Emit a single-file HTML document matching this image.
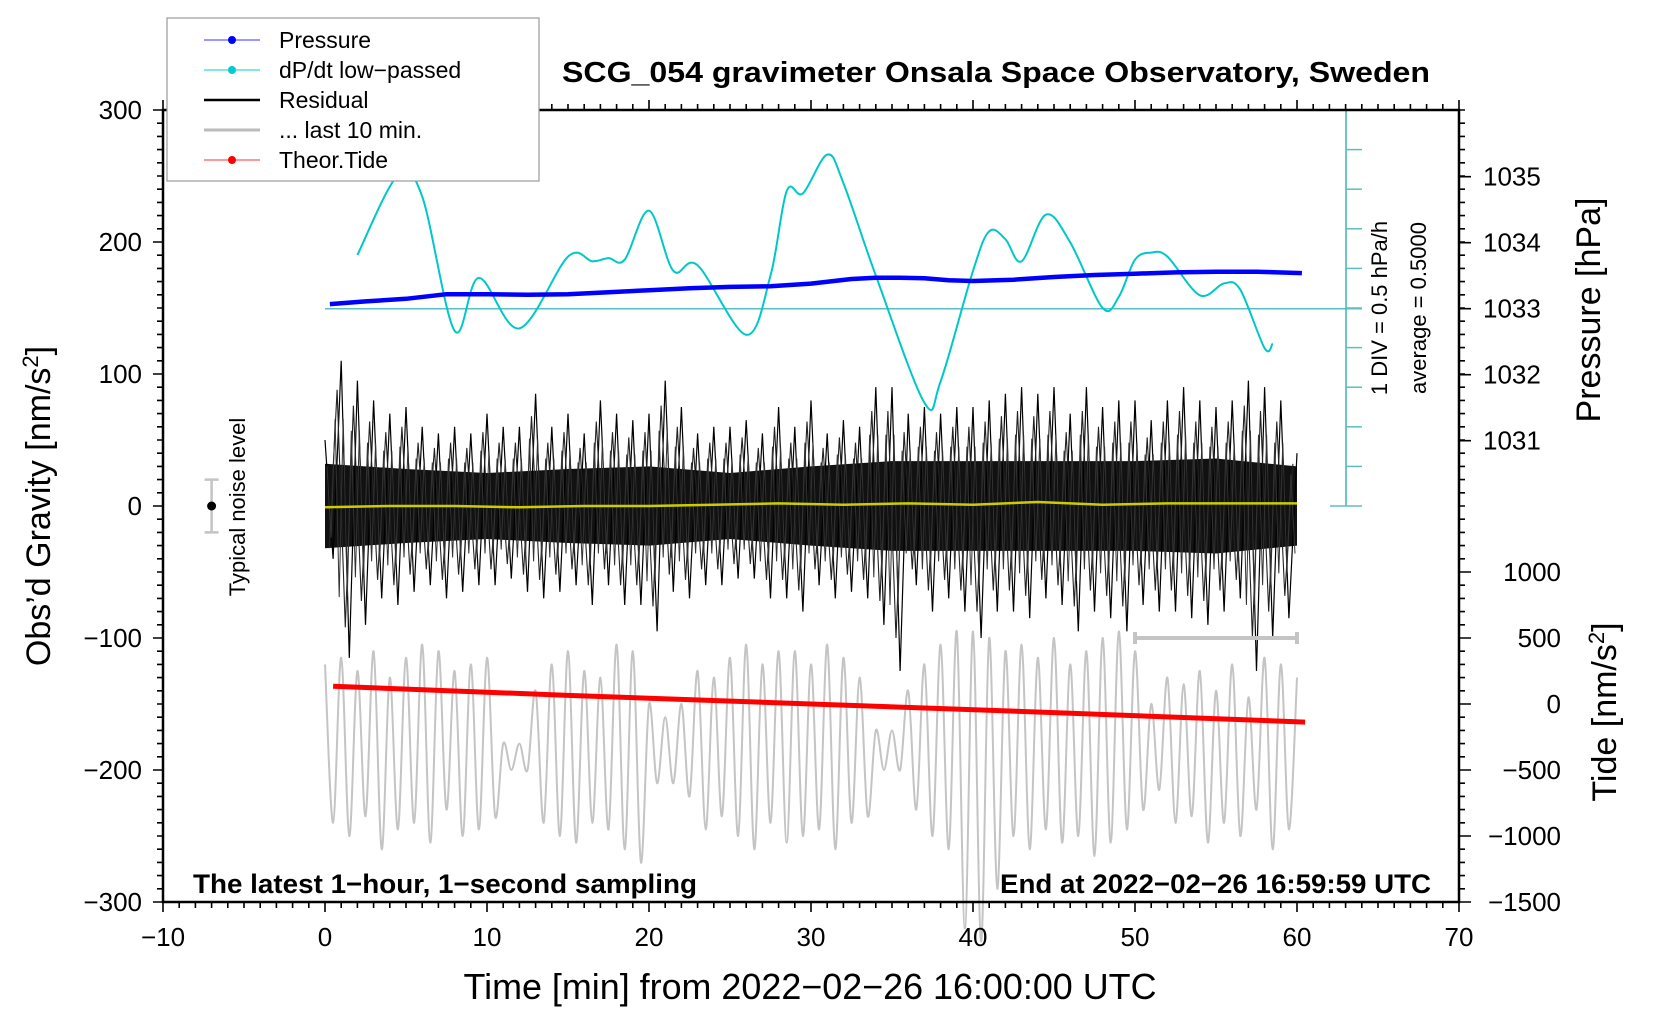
<!DOCTYPE html>
<html><head><meta charset="utf-8"><title>SCG_054 gravimeter</title>
<style>
html,body{margin:0;padding:0;background:#fff;}
svg{display:block;font-family:"Liberation Sans",Arial,sans-serif;}
</style></head>
<body>
<svg id="chart" width="1660" height="1020" viewBox="0 0 1660 1020" xmlns="http://www.w3.org/2000/svg">
<rect x="0" y="0" width="1660" height="1020" fill="#fff"/>
<g id="marks"></g>
<g id="axes"></g>
<text x="996" y="82" text-anchor="middle" font-size="29" font-weight="bold" textLength="868" lengthAdjust="spacingAndGlyphs">SCG_054 gravimeter Onsala Space Observatory, Sweden</text>
<text x="810" y="999" text-anchor="middle" font-size="36" textLength="693" lengthAdjust="spacingAndGlyphs">Time [min] from 2022−02−26 16:00:00 UTC</text>
<text transform="translate(50,506) rotate(-90)" text-anchor="middle" font-size="34">Obs’d Gravity [nm/s<tspan dy="-12" font-size="22">2</tspan><tspan dy="12">]</tspan></text>
<text transform="translate(1600,310) rotate(-90)" text-anchor="middle" font-size="34">Pressure [hPa]</text>
<text transform="translate(1616,712) rotate(-90)" text-anchor="middle" font-size="34">Tide [nm/s<tspan dy="-12" font-size="22">2</tspan><tspan dy="12">]</tspan></text>
<text transform="translate(1387,308) rotate(-90)" text-anchor="middle" font-size="22">1 DIV = 0.5 hPa/h</text>
<text transform="translate(1426,308) rotate(-90)" text-anchor="middle" font-size="22">average = 0.5000</text>
<text transform="translate(245,507) rotate(-90)" text-anchor="middle" font-size="22">Typical noise level</text>
<text x="193" y="893" font-size="27" font-weight="bold" textLength="504" lengthAdjust="spacingAndGlyphs">The latest 1−hour, 1−second sampling</text>
<text x="1000" y="893" font-size="27" font-weight="bold" textLength="431" lengthAdjust="spacingAndGlyphs">End at 2022−02−26 16:59:59 UTC</text>
<g>
<rect x="167" y="18" width="372" height="163" fill="#fff" stroke="#999" stroke-width="1.2"/>
<g><line x1="204" y1="40" x2="260" y2="40" stroke="#33f" stroke-width="1"/><circle cx="232" cy="40" r="4" fill="#00f"/><text x="279" y="48" font-size="23">Pressure</text></g>
<g><line x1="204" y1="70" x2="260" y2="70" stroke="#0cc" stroke-width="1"/><circle cx="232" cy="70" r="4" fill="#0cc"/><text x="279" y="78" font-size="23">dP/dt low−passed</text></g>
<g><line x1="204" y1="100" x2="260" y2="100" stroke="#000" stroke-width="2.5"/><text x="279" y="108" font-size="23">Residual</text></g>
<g><line x1="204" y1="130" x2="260" y2="130" stroke="#bbb" stroke-width="3"/><text x="279" y="138" font-size="23">... last 10 min.</text></g>
<g><line x1="204" y1="160" x2="260" y2="160" stroke="#f33" stroke-width="1"/><circle cx="232" cy="160" r="4" fill="#f00"/><text x="279" y="168" font-size="23">Theor.Tide</text></g>
</g>
</svg>
<script>
// ---------- data ----------
const pressTime = [0.3,2.5,5,7.5,10,12.5,15,17.5,20,22.5,25,27.5,30,32.5,34,35.5,37,38.5,40,42.5,45,47.5,50,52.5,55,57.5,60.3];
const pressVal  = [1033.07,1033.11,1033.15,1033.22,1033.22,1033.21,1033.22,1033.25,1033.28,1033.31,1033.33,1033.34,1033.38,1033.45,1033.47,1033.47,1033.46,1033.43,1033.42,1033.44,1033.48,1033.51,1033.53,1033.55,1033.56,1033.56,1033.54];
const dpTime = [2,4.5,6,8,9.5,12,15,16.5,17.5,18.5,20,21.5,23,26,27.5,28.5,29.5,31,32,34,37,38,40,41,42,43,44.5,46,48,49,50,51,52,54,55.5,56.5,58,58.5];
const dpVal  = [1.18,2.19,1.92,0.22,0.89,0.25,1.16,1.10,1.14,1.12,1.74,0.98,1.05,0.17,0.92,1.99,1.96,2.45,2.09,0.92,-0.69,-0.42,0.98,1.48,1.38,1.10,1.69,1.34,0.51,0.65,1.12,1.21,1.16,0.67,0.82,0.74,0.00,0.06];
const tideTime = [0.5,15,30,45,60.5];
const tideVal  = [135,65,0,-65,-137];
const resHi = [50,110,95,80,70,75,60,55,60,55,70,60,60,85,60,70,55,80,70,65,70,95,75,55,60,60,65,55,75,60,80,55,65,60,90,90,70,75,70,75,75,80,85,90,85,90,70,90,75,80,80,65,80,90,80,75,80,95,90,80,40];
const resLo = [-40,-115,-90,-70,-75,-65,-60,-70,-65,-60,-60,-55,-65,-70,-65,-60,-75,-60,-75,-75,-95,-65,-70,-60,-60,-55,-55,-70,-70,-80,-60,-70,-65,-70,-90,-125,-60,-80,-70,-80,-100,-80,-80,-85,-70,-75,-95,-80,-85,-95,-75,-80,-80,-85,-90,-80,-70,-125,-100,-85,-60];
const coreTime = [0,5,10,15,20,25,30,35,40,45,50,55,60];
const coreAmp  = [32,28,25,28,30,25,30,34,34,34,34,36,30];
const meanTime = [0,4,8,12,16,20,24,28,32,36,40,44,48,52,56,60];
const meanVal  = [-1,0,0,-1,0,0,1,2,1,2,1,3,1,2,2,2];
const grayHi = [-120,-115,-125,-110,-130,-115,-105,-110,-125,-120,-115,-180,-180,-140,-120,-110,-125,-130,-105,-110,-150,-160,-150,-125,-130,-115,-105,-120,-110,-110,-120,-105,-115,-130,-170,-170,-140,-120,-105,-95,-95,-100,-110,-105,-115,-100,-120,-110,-100,-95,-110,-150,-130,-135,-125,-140,-120,-145,-115,-120,-130];
const grayLo = [-240,-250,-235,-260,-245,-240,-255,-230,-250,-245,-235,-200,-200,-240,-250,-255,-240,-245,-260,-270,-210,-210,-220,-245,-235,-250,-260,-240,-255,-250,-245,-260,-240,-235,-200,-200,-230,-250,-260,-320,-330,-290,-250,-260,-245,-255,-250,-265,-255,-245,-230,-215,-240,-235,-255,-240,-250,-230,-260,-245,-225];
const xTicks = [-10,0,10,20,30,40,50,60,70];
const yTicks = [-300,-200,-100,0,100,200,300];
const pTicks = [1031,1032,1033,1034,1035];
const tTicks = [-1500,-1000,-500,0,500,1000];

// ---------- scales ----------
const X0=163,X1=1459,Y0=110,Y1=902;
const xs=t=>325+t*16.2;
const ys=g=>506-g*1.32;
const yp=p=>308.7-(p-1033)*66;
const yt=v=>704-v*0.132;
const yd=v=>308.7-(v-0.5)*79;
const NS='http://www.w3.org/2000/svg';
const marks=document.getElementById('marks');
const axes=document.getElementById('axes');
function mk(tag,attrs,parent){const e=document.createElementNS(NS,tag);for(const k in attrs)e.setAttribute(k,attrs[k]);parent.appendChild(e);return e;}
function smooth(pts){
  let d='M'+pts[0][0].toFixed(1)+','+pts[0][1].toFixed(1);
  for(let i=0;i<pts.length-1;i++){
    const p0=pts[Math.max(0,i-1)],p1=pts[i],p2=pts[i+1],p3=pts[Math.min(pts.length-1,i+2)];
    const c1=[p1[0]+(p2[0]-p0[0])/6,p1[1]+(p2[1]-p0[1])/6];
    const c2=[p2[0]-(p3[0]-p1[0])/6,p2[1]-(p3[1]-p1[1])/6];
    d+=' C'+c1[0].toFixed(1)+','+c1[1].toFixed(1)+' '+c2[0].toFixed(1)+','+c2[1].toFixed(1)+' '+p2[0].toFixed(1)+','+p2[1].toFixed(1);
  }
  return d;
}

// gray last 10 min
const gpts=[];
for(let i=0;i<grayHi.length;i++){gpts.push([xs(i),ys(grayHi[i])]);if(i<grayLo.length-1)gpts.push([xs(i+0.5),ys(grayLo[i])]);}
const gray=mk('path',{d:smooth(gpts),fill:'none',stroke:'#c4c4c4','stroke-width':2},marks);



// residual core band
let band='M';
coreTime.forEach((t,i)=>{band+=(i?' L':'')+xs(t).toFixed(1)+','+ys(coreAmp[i]).toFixed(1);});
for(let i=coreTime.length-1;i>=0;i--){band+=' L'+xs(coreTime[i]).toFixed(1)+','+ys(-coreAmp[i]).toFixed(1);}
const core=mk('path',{d:band+'Z',fill:'#111'},marks);


// residual spikes
let rp='';
for(let i=0;i<resHi.length;i++){
  rp+=(i?' L':'M')+xs(i).toFixed(1)+','+ys(resHi[i]).toFixed(1);
  if(i<resHi.length-1) rp+=' L'+xs(i+0.5).toFixed(1)+','+ys(resLo[i]).toFixed(1);
}
const res=mk('path',{d:rp,fill:'none',stroke:'#000','stroke-width':1.2},marks);


let rp2='';
for(let i=0;i<resHi.length-1;i++){
  rp2+=(i?' L':'M')+xs(i+0.25).toFixed(1)+','+ys(resLo[i]*0.8).toFixed(1)+' L'+xs(i+0.75).toFixed(1)+','+ys(resHi[i+1]*0.8).toFixed(1);
}
const res2=mk('path',{d:rp2,fill:'none',stroke:'#222','stroke-width':1.1},marks);


let rp3='';
for(let i=0;i<resHi.length-1;i++){
  rp3+=(i?' L':'M')+xs(i+0.125).toFixed(1)+','+ys(resHi[i]*0.6).toFixed(1)+' L'+xs(i+0.375).toFixed(1)+','+ys(resLo[i]*0.6).toFixed(1)+' L'+xs(i+0.625).toFixed(1)+','+ys(resHi[i+1]*0.6).toFixed(1)+' L'+xs(i+0.875).toFixed(1)+','+ys(resLo[i+1]*0.6).toFixed(1);
}
const res3=mk('path',{d:rp3,fill:'none',stroke:'#333','stroke-width':1},marks);



// mean (yellow)
const mean=mk('polyline',{points:meanTime.map((t,i)=>xs(t).toFixed(1)+','+ys(meanVal[i]).toFixed(1)).join(' '),fill:'none',stroke:'#cccc00','stroke-width':2.5},marks);



// tide
const tide=mk('polyline',{points:tideTime.map((t,i)=>xs(t).toFixed(1)+','+yt(tideVal[i]).toFixed(1)).join(' '),fill:'none',stroke:'#f00','stroke-width':5},marks);



// average line & dp axis
const avg=mk('line',{x1:xs(0),y1:yd(0.5),x2:1362,y2:yd(0.5),stroke:'#5bbfbf','stroke-width':1.5},marks);


const dax=mk('line',{x1:1346,y1:Y0,x2:1346,y2:506,stroke:'#3fb3b3','stroke-width':1.5},marks);


for(let k=0;k<=10;k++){
  const y=Y0+k*39.6;
  const end=(k===0||k===10);
  const tk=mk('line',{x1:end?1330:1346,y1:y,x2:1362,y2:y,stroke:'#5bbfbf','stroke-width':1.5},marks);
  
  
}

// dp/dt curve
const dp=mk('path',{d:smooth(dpTime.map((t,i)=>[xs(t),yd(dpVal[i])])),fill:'none',stroke:'#00c8c8','stroke-width':2},marks);



// pressure
const pr=mk('polyline',{points:pressTime.map((t,i)=>xs(t).toFixed(1)+','+yp(pressVal[i]).toFixed(1)).join(' '),fill:'none',stroke:'#0000ff','stroke-width':4.5,'stroke-linejoin':'round'},marks);



// scale bar (last-10 range)
const sb=mk('path',{d:'M'+xs(50)+','+ys(-100)+' H'+xs(60)+' M'+xs(50)+','+(ys(-100)-6)+' v12 M'+xs(60)+','+(ys(-100)-6)+' v12',stroke:'#c4c4c4','stroke-width':4,fill:'none'},marks);



// noise marker
const nz=mk('path',{d:'M'+xs(-7)+','+ys(20)+' V'+ys(-20)+' M'+(xs(-7)-7)+','+ys(20)+' h14 M'+(xs(-7)-7)+','+ys(-20)+' h14',stroke:'#c4c4c4','stroke-width':2.5,fill:'none'},marks);


const nd=mk('circle',{cx:xs(-7),cy:ys(0),r:4.5,fill:'#000'},marks);



// frame
const fr=mk('rect',{x:X0,y:Y0,width:X1-X0,height:Y1-Y0,fill:'none',stroke:'#000','stroke-width':2.5},axes);


let tp='';
for(let t=-10;t<=70;t++){const x=xs(t);const L=(t%10===0)?10:6;tp+='M'+x+','+Y1+' v'+L+' M'+x+','+Y0+' v-'+L+' ';}
for(let g=-300;g<=300;g+=10){const y=ys(g);const L=(g%100===0)?10:6;tp+='M'+X0+','+y+' h-'+L+' ';}
for(let y=Y0;y<=Y1+0.5;y+=13.2){tp+='M'+X1+','+y.toFixed(1)+' h6 ';}
pTicks.forEach(p=>{tp+='M'+X1+','+yp(p).toFixed(1)+' h12 ';});
tTicks.forEach(v=>{tp+='M'+X1+','+yt(v).toFixed(1)+' h12 ';});
const tpath=mk('path',{d:tp,stroke:'#000','stroke-width':1.6,fill:'none'},axes);


xTicks.forEach(t=>{
  const e=mk('text',{x:xs(t),y:946,'text-anchor':'middle','font-size':26},axes);
  e.textContent=String(t).replace('-','−');
  
  
});
yTicks.forEach(g=>{
  const e=mk('text',{x:142,y:ys(g)+9,'text-anchor':'end','font-size':26},axes);
  e.textContent=String(g).replace('-','−');
  
  
});
pTicks.forEach(p=>{
  const e=mk('text',{x:1483,y:yp(p)+9,'font-size':26},axes);
  e.textContent=String(p);
  
  
});
tTicks.forEach(v=>{
  const e=mk('text',{x:1561,y:yt(v)+9,'text-anchor':'end','font-size':26},axes);
  e.textContent=String(v).replace('-','−');
  
  
});
</script>
</body></html>
